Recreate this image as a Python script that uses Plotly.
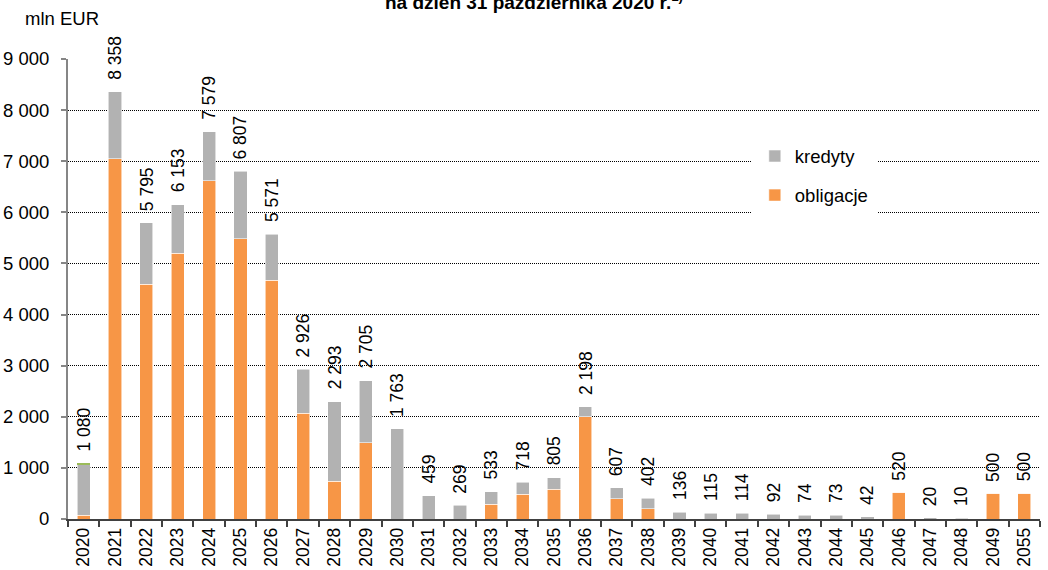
import plotly.graph_objects as go

# Maturity years (2050-2054 have no repayments and are not shown)
years = ["2020", "2021", "2022", "2023", "2024", "2025", "2026", "2027", "2028", "2029",
         "2030", "2031", "2032", "2033", "2034", "2035", "2036", "2037", "2038", "2039",
         "2040", "2041", "2042", "2043", "2044", "2045", "2046", "2047", "2048", "2049",
         "2055"]

# Bonds (mln EUR)
obligacje = [72, 7050, 4590, 5200, 6620, 5485, 4670, 2070, 740, 1495,
             0, 0, 0, 290, 480, 580, 2000, 400, 200, 0,
             0, 0, 0, 0, 0, 0, 520, 0, 0, 500,
             500]

# Loans (mln EUR)
kredyty = [990, 1308, 1205, 953, 959, 1322, 901, 856, 1553, 1210,
           1763, 459, 269, 243, 238, 225, 198, 207, 202, 136,
           115, 114, 92, 74, 73, 42, 0, 20, 10, 0,
           0]

# Other instruments (mln EUR)
inne = [18] + [0] * 30

totals = [o + k + i for o, k, i in zip(obligacje, kredyty, inne)]

FONT = "Liberation Sans, Arial, sans-serif"
ORANGE = "#F79646"
GREY = "#B2B2B2"
GREEN = "#9BBB59"

fig = go.Figure()
bar_line = dict(color="rgba(255,255,255,0.7)", width=0.8)
fig.add_trace(go.Bar(x=years, y=obligacje, name="obligacje", legendgroup="o",
                     legendrank=2, marker=dict(color=ORANGE, line=bar_line)))
fig.add_trace(go.Bar(x=years, y=kredyty, name="kredyty", legendgroup="k",
                     legendrank=1, marker=dict(color=GREY, line=bar_line)))
fig.add_trace(go.Bar(x=years, y=inne, name="inne", showlegend=False,
                     marker=dict(color=GREEN, line=dict(width=0))))


def fmt(v):
    return f"{v:,}".replace(",", " ")


# Total labels above each stack; on a category axis annotations take the
# category's serial number as their x position.
annotations = []
for idx, tot in enumerate(totals):
    annotations.append(dict(
        x=idx, y=tot, xref="x", yref="y", text=fmt(tot), showarrow=False,
        textangle=-90, xanchor="center", yanchor="bottom", yshift=10,
        font=dict(family=FONT, size=17.5, color="#000000"),
    ))

annotations.append(dict(
    x=-0.046, y=1.089, xref="paper", yref="paper", text="mln EUR",
    showarrow=False, xanchor="left", yanchor="middle",
    font=dict(family=FONT, size=18.5, color="#000000"),
))
annotations.append(dict(
    x=0.4795, y=1.095, xref="paper", yref="paper",
    text="<b>na dzień 31 października 2020 r.<sup>1)</sup></b>",
    showarrow=False, xanchor="center", yanchor="bottom",
    font=dict(family=FONT, size=19, color="#000000"),
))

fig.update_layout(
    width=1048, height=570,
    margin=dict(l=68, r=8, t=59, b=51, autoexpand=False),
    paper_bgcolor="white", plot_bgcolor="white",
    barmode="stack", bargap=0.58,
    separators=", ",
    font=dict(family=FONT, size=18, color="#000000"),
    showlegend=True,
    legend=dict(
        x=0.7025, y=0.838, xanchor="left", yanchor="top",
        bgcolor="white", bordercolor="white", borderwidth=4,
        traceorder="grouped", tracegroupgap=12,
        font=dict(family=FONT, size=18.5, color="#000000"),
        itemclick=False,
    ),
    annotations=annotations,
)

fig.update_xaxes(
    type="category", showgrid=False,
    showline=True, linecolor="#404040", linewidth=1.5,
    ticks="outside", tickson="boundaries", ticklen=6, tickcolor="#404040", tickwidth=1.5,
    tickangle=-90, tickfont=dict(family=FONT, size=17.5, color="#000000"),
    automargin=False,
)
fig.update_yaxes(
    range=[0, 9000], dtick=1000, tickformat=",d",
    showgrid=True, gridcolor="#000000", gridwidth=1, griddash="1px,1px",
    zeroline=False,
    showline=True, linecolor="#868686", linewidth=2,
    ticks="outside", ticklen=5, tickcolor="#868686", tickwidth=1.5,
    ticklabelstandoff=8,
    tickfont=dict(family=FONT, size=18.5, color="#000000"),
    automargin=False,
)

fig.write_html("out.html")
